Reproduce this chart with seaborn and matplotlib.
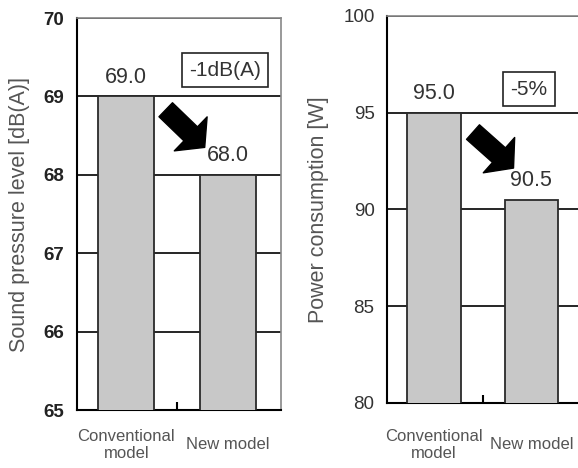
import matplotlib
matplotlib.use("Agg")
import matplotlib.pyplot as plt
import seaborn as sns
from matplotlib.patches import FancyArrowPatch

# data
models = ["Conventional\nmodel", "New model"]
sound_level = [69.0, 68.0]
power = [95.0, 90.5]
sound_ticks = [65, 66, 67, 68, 69, 70]
power_ticks = [80, 85, 90, 95, 100]
sound_note = "-1dB(A)"
power_note = "-5%"

sns.set_style("white")
plt.rcParams["font.family"] = ["Liberation Sans", "DejaVu Sans"]

fig = plt.figure(figsize=(5.78, 4.68), dpi=100)
ax1 = fig.add_axes([0.1332, 0.1239, 0.353, 0.8376])
ax2 = fig.add_axes([0.6696, 0.1389, 0.337, 0.827])

panels = [
    (ax1, sound_level, sound_ticks, "Sound pressure level [dB(A)]", sound_note,
     (0.725, 0.867), True, 25, ((0.387, 68.83), (0.77, 68.35))),
    (ax2, power, power_ticks, "Power consumption [W]", power_note,
     (0.728, 0.811), False, 30, ((0.40, 94.0), (0.817, 92.14))),
]

for ax, vals, ticks, ylab, note, note_pos, bold, xpad, arrow in panels:
    sns.barplot(x=models, y=vals, ax=ax, color="#c8c8c8", saturation=1,
                edgecolor="#2a2a2a", linewidth=1.3, width=0.55, zorder=3)
    ax.set_xlim(-0.485, 1.52)
    ax.set_ylim(ticks[0], ticks[-1])
    ax.set_yticks(ticks)
    ax.set_yticklabels([str(t) for t in ticks], fontsize=13.5,
                       fontweight="bold" if bold else "normal",
                       color="#222222" if bold else "#333333")
    ax.yaxis.grid(True, color="black", linewidth=1.2)
    ax.set_axisbelow(True)
    ax.tick_params(axis="y", length=0, pad=9)

    # category labels, vertically centred under the axis
    ax.tick_params(axis="x", which="major", length=0, pad=xpad)
    for lbl in ax.get_xticklabels():
        lbl.set_verticalalignment("center")
        lbl.set_fontsize(12)
        lbl.set_color("#555555")
        lbl.set_linespacing(1.15)
    ax.set_xticks([0.5], minor=True)
    ax.tick_params(axis="x", which="minor", direction="in", length=6,
                   width=1.5, color="black", bottom=True)

    ax.set_xlabel("")
    ax.set_ylabel(ylab, fontsize=15.5, color="#555555", labelpad=10)

    for side in ["left", "bottom"]:
        ax.spines[side].set_color("black")
        ax.spines[side].set_linewidth(1.5)
    for side in ["top", "right"]:
        ax.spines[side].set_color("#888888")
        ax.spines[side].set_linewidth(1.2)

    for i, v in enumerate(vals):
        ax.annotate(f"{v:.1f}", (i, v), xytext=(0, 10), textcoords="offset points",
                    ha="center", va="baseline", fontsize=15.5, color="#333333")

    ax.text(note_pos[0], note_pos[1], note, transform=ax.transAxes,
            ha="center", va="center", fontsize=15, color="#333333", zorder=5,
            bbox=dict(boxstyle="square,pad=0.35", fc="white", ec="#222222", lw=1.2))

    arr = FancyArrowPatch(arrow[0], arrow[1], transform=ax.transData,
                          arrowstyle="simple,head_length=14,head_width=34,tail_width=14",
                          mutation_scale=1, shrinkA=0, shrinkB=0,
                          color="black", zorder=6, clip_on=False)
    ax.add_patch(arr)

fig.savefig("out.png", dpi=100)
